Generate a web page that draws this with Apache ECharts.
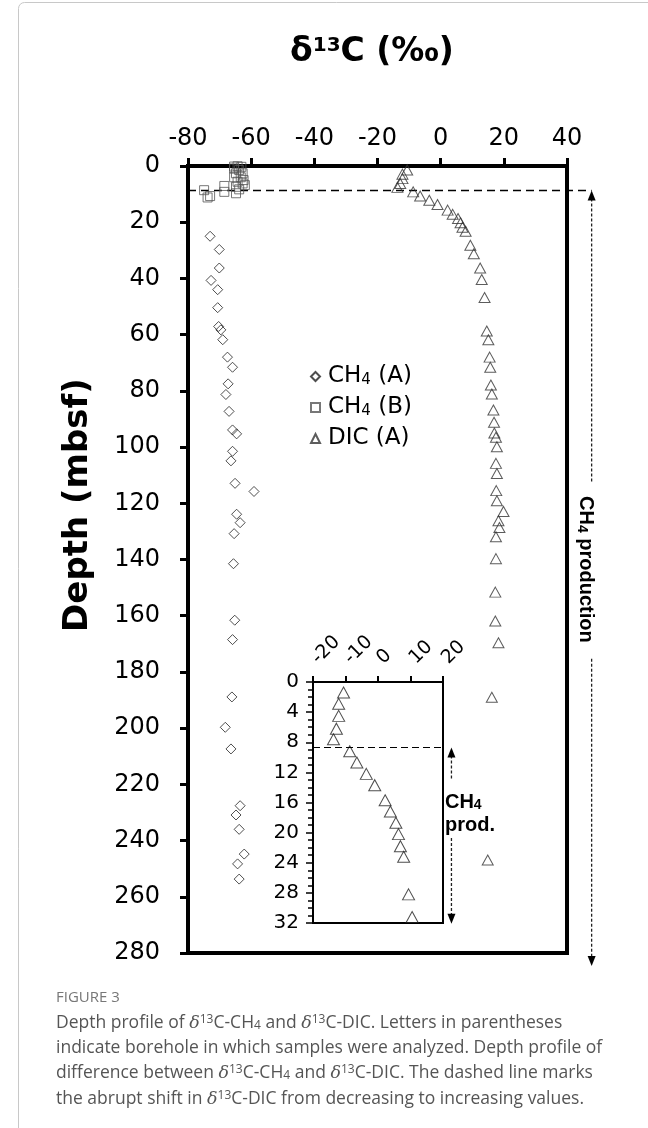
<!DOCTYPE html>
<html>
<head>
<meta charset="utf-8">
<script src="https://cdn.jsdelivr.net/npm/echarts@6/dist/echarts.min.js"></script>
<style>
  html, body { margin: 0; padding: 0; background: #fff; }
  #chart { width: 648px; height: 1128px; }
</style>
</head>
<body>
<div id="chart"></div>
<script>
// d13C (permil) vs depth (mbsf)
var ch4A = [
  [-73.0, 25.0], [-70.1, 29.7], [-70.1, 36.3], [-72.7, 40.7], [-70.6, 44.0],
  [-70.6, 50.4], [-70.3, 57.1], [-69.6, 58.3], [-69.0, 61.8], [-67.5, 68.0],
  [-65.9, 71.6], [-67.3, 77.5], [-68.0, 81.3], [-67.0, 87.3], [-65.9, 93.9],
  [-64.6, 95.3], [-65.9, 101.5], [-66.4, 104.9], [-65.1, 112.9], [-59.1, 115.8],
  [-64.6, 123.9], [-63.5, 126.9], [-65.4, 130.8], [-65.6, 141.5], [-65.2, 161.6],
  [-65.9, 168.5], [-66.1, 188.9], [-68.2, 199.7], [-66.4, 207.4], [-63.5, 227.6],
  [-64.8, 230.9], [-63.8, 236.0], [-62.2, 244.8], [-64.3, 248.3], [-63.8, 253.7]
];
var ch4B = [
  [-65.4, 0.2], [-64.3, 0.1], [-63.1, 0.3], [-65.4, 0.9], [-63.8, 1.4],
  [-64.8, 2.6], [-62.7, 2.6], [-65.4, 4.0], [-63.3, 4.0], [-62.4, 5.0],
  [-64.3, 5.6], [-62.7, 6.2], [-64.8, 7.4], [-62.0, 6.8], [-63.8, 8.3],
  [-64.8, 9.7], [-68.5, 7.1], [-68.5, 9.2], [-74.9, 8.6], [-73.8, 11.2],
  [-73.0, 10.7]
];
var dicA = [
  [-10.6, 1.4], [-12.1, 2.9], [-12.1, 4.5], [-12.8, 6.2], [-13.7, 7.6],
  [-8.7, 9.2], [-6.5, 10.7], [-3.6, 12.2], [-1.0, 13.7], [2.2, 15.7],
  [3.8, 17.2], [5.5, 18.7], [6.3, 20.2], [6.9, 21.8], [7.9, 23.2],
  [9.4, 28.2], [10.5, 31.2], [12.5, 36.3], [13.0, 40.4], [13.9, 46.8],
  [14.6, 58.7], [15.1, 61.8], [15.5, 68.0], [15.7, 71.6], [15.9, 77.9],
  [16.2, 81.1], [16.7, 86.8], [16.9, 91.2], [17.0, 95.0], [17.5, 96.5],
  [17.8, 99.9], [17.5, 105.8], [17.8, 109.4], [17.6, 115.5], [17.8, 119.1],
  [19.9, 122.9], [18.3, 126.2], [18.6, 128.6], [17.5, 131.9], [17.5, 139.7],
  [17.3, 151.6], [17.3, 161.9], [18.3, 169.6], [16.2, 189.0], [14.9, 246.9]
];
var seriesNames = ['CH4 (A)', 'CH4 (B)', 'DIC (A)'];
var insetXTicks = [-20, -10, 0, 10, 20];
var shiftDepth = 8.7;   // dashed line: DIC shift
var insetMaxDepth = 32;

var chart = echarts.init(document.getElementById('chart'));

var axisFont = 'DejaVu Sans';
var hollow = function (c) {
  return { color: 'rgba(0,0,0,0)', borderColor: c, borderWidth: 1 };
};

var option = {
  animation: false,
  backgroundColor: '#fff',
  grid: [
    { left: 188, right: 81, top: 166, bottom: 175, show: true, borderColor: '#000', borderWidth: 4 },
    { left: 313, top: 682, width: 130, height: 241, show: true, borderColor: '#000', borderWidth: 2, backgroundColor: '#fff' }
  ],
  xAxis: [
    {
      type: 'value', gridIndex: 0, position: 'top', min: -80, max: 40, interval: 20,
      axisLine: { onZero: false, lineStyle: { color: '#000', width: 4 } },
      axisTick: { inside: false, length: 8, lineStyle: { color: '#000', width: 3 } },
      axisLabel: { fontSize: 24, color: '#000', fontFamily: axisFont, margin: 15 },
      splitLine: { show: false }
    },
    {
      // tick labels of the inset are drawn rotated below
      type: 'value', gridIndex: 1, position: 'top', min: -20, max: 20, interval: 10,
      axisLine: { onZero: false, lineStyle: { color: '#000', width: 2 } },
      axisTick: { inside: false, length: 6, lineStyle: { color: '#000', width: 2 } },
      axisLabel: { show: false },
      splitLine: { show: false }
    }
  ],
  yAxis: [
    {
      type: 'value', gridIndex: 0, inverse: true, min: 0, max: 280, interval: 20,
      axisLine: { onZero: false, lineStyle: { color: '#000', width: 4 } },
      axisTick: { inside: false, length: 8, lineStyle: { color: '#000', width: 3 } },
      axisLabel: { fontSize: 24, color: '#000', fontFamily: axisFont, margin: 28 },
      splitLine: { show: false }
    },
    {
      type: 'value', gridIndex: 1, inverse: true, min: 0, max: 32, interval: 4,
      axisLine: { onZero: false, lineStyle: { color: '#000', width: 2 } },
      axisTick: { inside: false, length: 7, lineStyle: { color: '#000', width: 1.5 } },
      minorTick: { show: true, splitNumber: 4, length: 5, lineStyle: { color: '#000', width: 1.5 } },
      axisLabel: { fontSize: 20, color: '#000', fontFamily: axisFont, margin: 14 },
      splitLine: { show: false }
    }
  ],
  legend: {
    orient: 'vertical', left: 305, top: 360,
    itemWidth: 9, itemHeight: 9, itemGap: 8,
    formatter: function (name) {
      return name.indexOf('CH4') === 0 ? 'CH{s|4}' + name.slice(3) : name;
    },
    textStyle: {
      fontSize: 23, color: '#000', fontFamily: axisFont, padding: [0, 0, 0, 3],
      rich: { s: { fontSize: 15, fontFamily: axisFont, color: '#000', verticalAlign: 'bottom', lineHeight: 8 } }
    },
    data: seriesNames
  },
  series: [
    {
      name: seriesNames[0], type: 'scatter', xAxisIndex: 0, yAxisIndex: 0,
      symbol: 'diamond', symbolSize: 10, itemStyle: hollow('#222'), data: ch4A
    },
    {
      name: seriesNames[1], type: 'scatter', xAxisIndex: 0, yAxisIndex: 0,
      symbol: 'rect', symbolSize: 9, itemStyle: hollow('#555'), data: ch4B
    },
    {
      name: seriesNames[2], type: 'scatter', xAxisIndex: 0, yAxisIndex: 0,
      symbol: 'triangle', symbolSize: [11, 10], itemStyle: hollow('#333'), data: dicA
    },
    {
      name: 'DIC inset', type: 'scatter', xAxisIndex: 1, yAxisIndex: 1,
      symbol: 'triangle', symbolSize: [12, 11], itemStyle: hollow('#222'),
      data: dicA.filter(function (d) { return d[1] <= insetMaxDepth; }),
      markLine: {
        silent: true, symbol: 'none', label: { show: false },
        lineStyle: { color: '#000', width: 1.2, type: [7, 4] },
        data: [{ yAxis: shiftDepth }]
      }
    }
  ]
};
chart.setOption(option);

// annotations placed through the axes
function px(g, x, y) { return chart.convertToPixel({ gridIndex: g }, [x, y]); }

function arrow(id, g, xv, yTop, yGapA, yGapB, yBot) {
  var a = px(g, xv, yTop), b = px(g, xv, yGapA), c = px(g, xv, yGapB), d = px(g, xv, yBot);
  var x = a[0], ls = { stroke: '#222', lineWidth: 1.3, lineDash: [3, 2] };
  return [
    { type: 'line', id: id + 'l1', shape: { x1: x, y1: a[1] + 8, x2: x, y2: b[1] }, style: ls },
    { type: 'line', id: id + 'l2', shape: { x1: x, y1: c[1], x2: x, y2: d[1] - 8 }, style: ls },
    { type: 'polygon', id: id + 'h1', shape: { points: [[x, a[1]], [x - 4, a[1] + 10], [x + 4, a[1] + 10]] }, style: { fill: '#000' } },
    { type: 'polygon', id: id + 'h2', shape: { points: [[x, d[1]], [x - 4, d[1] - 10], [x + 4, d[1] - 10]] }, style: { fill: '#000' } }
  ];
}

var d0 = px(0, -80, shiftDepth), d1 = px(0, 47.8, shiftDepth);
var mainText = px(0, 45.8, 143.5);
var insText = px(1, 20.6, 16.0);
var insText2 = px(1, 20.6, 19.1);

var boldSub = { fontSize: 14, fontWeight: 'bold', fontFamily: 'Liberation Sans', verticalAlign: 'bottom', lineHeight: 8 };
var capSub = { fontSize: 12, fontFamily: 'Open Sans', fill: '#555', verticalAlign: 'bottom', lineHeight: 10 };
var capSup = { fontSize: 12, fontFamily: 'Open Sans', fill: '#555', verticalAlign: 'top', lineHeight: 14 };
var capDelta = { fontSize: 17.5, fontFamily: 'DejaVu Serif', fontStyle: 'italic', fill: '#555' };
var capRich = { b: capSub, p: capSup, d: capDelta };
var capX = 56;
var capStyle = function (t) {
  return { text: t, fontSize: 17.5, fontFamily: 'Open Sans', fill: '#555', verticalAlign: 'middle', rich: capRich };
};

var g = [
  { type: 'rect', id: 'frame', shape: { x: 18.5, y: 2.5, width: 660, height: 1140, r: 6 }, style: { fill: 'none', stroke: '#c8c8c8', lineWidth: 1 }, z: -1 },
  { type: 'text', id: 'title', x: 372, y: 52,
    style: { text: '\u03b4{s|13}C (\u2030)', fontSize: 33, fontWeight: 'bold', fontFamily: axisFont, fill: '#000', align: 'center', verticalAlign: 'middle',
      rich: { s: { fontSize: 20, fontWeight: 'bold', fontFamily: axisFont, verticalAlign: 'top', lineHeight: 24 } } } },
  { type: 'text', id: 'ylab', x: 78, y: 505, rotation: Math.PI / 2,
    style: { text: 'Depth (mbsf)', fontSize: 34, fontWeight: 'bold', fontFamily: axisFont, fill: '#000', align: 'center', verticalAlign: 'middle' } },
  { type: 'line', id: 'shift', shape: { x1: d0[0], y1: d0[1], x2: d1[0], y2: d1[1] }, style: { stroke: '#000', lineWidth: 1.5, lineDash: [8, 5] } },
  { type: 'text', id: 'prodMain', x: mainText[0], y: mainText[1], rotation: -Math.PI / 2,
    style: { text: 'CH{s|4} production', fontSize: 20, fontWeight: 'bold', fontFamily: 'Liberation Sans', fill: '#000', align: 'center', verticalAlign: 'middle', rich: { s: boldSub } } },
  { type: 'text', id: 'prodIns1', x: insText[0], y: insText[1],
    style: { text: 'CH{s|4}', fontSize: 20, fontWeight: 'bold', fontFamily: 'Liberation Sans', fill: '#000', align: 'left', verticalAlign: 'middle', rich: { s: boldSub } } },
  { type: 'text', id: 'prodIns2', x: insText2[0], y: insText2[1],
    style: { text: 'prod.', fontSize: 20, fontWeight: 'bold', fontFamily: 'Liberation Sans', fill: '#000', align: 'left', verticalAlign: 'middle' } },
  { type: 'text', id: 'fig', x: capX, y: 998,
    style: { text: 'FIGURE 3', fontSize: 15, fontFamily: 'Open Sans', fill: '#777', verticalAlign: 'middle' } },
  { type: 'text', id: 'cap1', x: capX, y: 1023,
    style: capStyle('Depth profile of {d|\u03b4}{p|13}C-CH{b|4} and {d|\u03b4}{p|13}C-DIC. Letters in parentheses') },
  { type: 'text', id: 'cap2', x: capX, y: 1048,
    style: capStyle('indicate borehole in which samples were analyzed. Depth profile of') },
  { type: 'text', id: 'cap3', x: capX, y: 1073,
    style: capStyle('difference between {d|\u03b4}{p|13}C-CH{b|4} and {d|\u03b4}{p|13}C-DIC. The dashed line marks') },
  { type: 'text', id: 'cap4', x: capX, y: 1099,
    style: capStyle('the abrupt shift in {d|\u03b4}{p|13}C-DIC from decreasing to increasing values.') }
];

// rotated tick labels of the inset x axis, anchored at each tick
insetXTicks.forEach(function (v, i) {
  var p = px(1, v, 0);
  g.push({ type: 'text', id: 'itx' + i, x: p[0] + 2, y: p[1] - 21, rotation: Math.PI / 4,
    style: { text: String(v), fontSize: 19, fontFamily: axisFont, fill: '#000', align: 'left', verticalAlign: 'middle' } });
});

g = g.concat(arrow('am', 0, 47.8, shiftDepth, 112.5, 175.3, 284.6));
g = g.concat(arrow('ai', 1, 22.6, shiftDepth, 13.0, 20.7, 32.1));

chart.setOption({ graphic: g });
</script>
</body>
</html>
